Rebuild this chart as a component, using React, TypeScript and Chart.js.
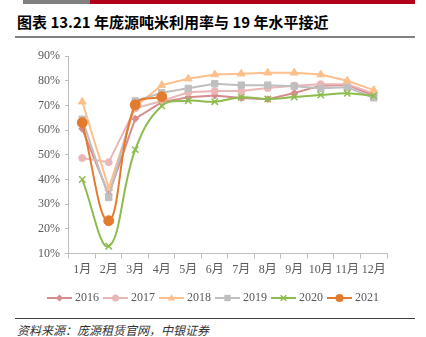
import React, { useEffect, useRef } from 'react';
import { Chart, registerables } from 'chart.js';

Chart.register(...registerables);

const months = ['1月', '2月', '3月', '4月', '5月', '6月', '7月', '8月', '9月', '10月', '11月', '12月'];
const y2016 = [60.5, 34, 64.6, 71.3, 73.3, 74, 73, 72.5, 75, 78, 78.3, 74];
const y2017 = [48.7, 47, 68.8, 71.8, 75.3, 75.8, 75.8, 77, 78, 78.6, 78.6, 74.8];
const y2018 = [71.5, 36.5, 69.5, 78.2, 80.8, 82.5, 82.8, 83.2, 83.2, 82.5, 80, 76.2];
const y2019 = [64.4, 32.7, 71.8, 75.1, 76.9, 78.8, 78.2, 78.2, 77.8, 76.9, 77.3, 73.1];
const y2020 = [40, 13, 52.1, 69.8, 71.9, 71.5, 73.3, 72.6, 73.4, 74.2, 74.9, 73.9];
const y2021 = [63, 23.3, 70.2, 73.5];
const seriesNames = ['2016', '2017', '2018', '2019', '2020', '2021'];

const FONT = "'Liberation Serif', 'Noto Sans CJK SC', serif";
const TEXT = '#595959';
const AXIS = '#BFBFBF';

function drawMarker(ctx: CanvasRenderingContext2D, style: string, x: number, y: number, r: number, color: string) {
  ctx.save();
  ctx.fillStyle = color;
  ctx.strokeStyle = color;
  ctx.lineWidth = 1.5;
  ctx.beginPath();
  if (style === 'circle') {
    ctx.arc(x, y, r, 0, Math.PI * 2);
    ctx.fill();
  } else if (style === 'rectRot') {
    ctx.moveTo(x, y - r);
    ctx.lineTo(x + r, y);
    ctx.lineTo(x, y + r);
    ctx.lineTo(x - r, y);
    ctx.closePath();
    ctx.fill();
  } else if (style === 'triangle') {
    ctx.moveTo(x, y - r);
    ctx.lineTo(x + r * 0.9, y + r * 0.6);
    ctx.lineTo(x - r * 0.9, y + r * 0.6);
    ctx.closePath();
    ctx.fill();
  } else if (style === 'rect') {
    ctx.rect(x - r * 0.8, y - r * 0.8, r * 1.6, r * 1.6);
    ctx.fill();
  } else if (style === 'crossRot') {
    const d = r * 0.7;
    ctx.moveTo(x - d, y - d);
    ctx.lineTo(x + d, y + d);
    ctx.moveTo(x + d, y - d);
    ctx.lineTo(x - d, y + d);
    ctx.stroke();
  }
  ctx.restore();
}

const legendPlugin = {
  id: 'customLegend',
  afterDraw(chart: any) {
    const ctx = chart.ctx as CanvasRenderingContext2D;
    const ds = chart.data.datasets;
    ctx.save();
    ctx.font = `12px ${FONT}`;
    const lineW = 25;
    const gap = 3;
    const pad = 4;
    const widths = seriesNames.map((n) => lineW + gap + ctx.measureText(n).width);
    const total = widths.reduce((a, b) => a + b, 0) + pad * (widths.length - 1);
    let x = (chart.width - total) / 2;
    const y = chart.height - 18;
    seriesNames.forEach((name, i) => {
      const d = ds[i];
      ctx.strokeStyle = d.borderColor;
      ctx.lineWidth = 2;
      ctx.beginPath();
      ctx.moveTo(x, y);
      ctx.lineTo(x + lineW, y);
      ctx.stroke();
      drawMarker(ctx, d.pointStyle, x + lineW / 2, y, Math.min(d.pointRadius, 4), d.borderColor);
      ctx.fillStyle = TEXT;
      ctx.textBaseline = 'middle';
      ctx.textAlign = 'left';
      ctx.fillText(name, x + lineW + gap, y);
      x += widths[i] + pad;
    });
    ctx.restore();
  },
};

export default function App() {
  const ref = useRef<HTMLCanvasElement | null>(null);

  useEffect(() => {
    if (!ref.current) return;
    const mk = (label: string, data: number[], color: string, style: string, radius: number, order: number, tension = 0) => ({
      label,
      data,
      borderColor: color,
      backgroundColor: color,
      pointBackgroundColor: color,
      pointBorderColor: color,
      pointStyle: style,
      pointRadius: radius,
      pointBorderWidth: style === 'crossRot' ? 1.5 : 1,
      borderWidth: 2,
      tension,
      order,
      fill: false,
    });
    const chart = new Chart(ref.current, {
      type: 'line',
      data: {
        labels: months,
        datasets: [
          mk('2016', y2016, '#D88B8F', 'rectRot', 3.5, 5),
          mk('2017', y2017, '#EAB6B6', 'circle', 3.5, 4),
          mk('2018', y2018, '#FDC08C', 'triangle', 4.5, 3),
          mk('2019', y2019, '#BFBFBF', 'rect', 4.5, 2),
          mk('2020', y2020, '#8DBB4D', 'crossRot', 4.5, 1, 0.4),
          mk('2021', y2021, '#E37B2F', 'circle', 5, 0, 0.4),
        ] as any,
      },
      options: {
        animation: false,
        responsive: false,
        maintainAspectRatio: false,
        layout: { padding: { left: 33, right: 39, top: 16, bottom: 35 } },
        plugins: {
          legend: { display: false },
          tooltip: { enabled: false },
        },
        scales: {
          x: {
            offset: true,
            grid: { offset: true, drawOnChartArea: false, drawTicks: true, tickLength: 5, color: AXIS },
            border: { color: AXIS, width: 1 },
            ticks: { color: TEXT, font: { family: FONT, size: 12 }, padding: 4, maxRotation: 0, autoSkip: false },
          },
          y: {
            min: 10,
            max: 90,
            grid: { drawOnChartArea: false, drawTicks: true, tickLength: 4, color: AXIS },
            border: { color: AXIS, width: 1 },
            ticks: {
              stepSize: 10,
              color: TEXT,
              font: { family: FONT, size: 12 },
              padding: 5,
              callback: (v: any) => `${v}%`,
            },
          },
        },
      },
      plugins: [legendPlugin],
    });
    return () => chart.destroy();
  }, []);

  return (
    <div style={{ position: 'absolute', left: 0, top: 0, width: 426, height: 337, background: '#fff', overflow: 'hidden' }}>
      <div style={{ position: 'absolute', left: 23, top: 0, width: 67, height: 4, background: '#7F7F7F' }} />
      <div style={{ position: 'absolute', left: 90, top: 0, width: 325, height: 4, background: '#B3001B' }} />
      <div
        style={{
          position: 'absolute',
          left: 17,
          top: 12,
          fontFamily: "'Noto Sans CJK SC', sans-serif",
          fontWeight: 'bold',
          fontSize: 15,
          lineHeight: '20px',
          color: '#000',
          whiteSpace: 'nowrap',
        }}
      >
        图表 13.21 年庞源吨米利用率与 19 年水平接近
      </div>
      <div style={{ position: 'absolute', left: 15, top: 36, width: 400, height: 2, background: '#808080' }} />
      <canvas ref={ref} width={426} height={276} style={{ position: 'absolute', left: 0, top: 40, width: 426, height: 276 }} />
      <div style={{ position: 'absolute', left: 15, top: 318, width: 400, height: 1, background: '#404040' }} />
      <div
        style={{
          position: 'absolute',
          left: 17,
          top: 322,
          fontFamily: "'Noto Sans CJK SC', sans-serif",
          fontStyle: 'italic',
          fontSize: 12,
          lineHeight: '16px',
          color: '#333',
          whiteSpace: 'nowrap',
        }}
      >
        资料来源：庞源租赁官网，中银证券
      </div>
    </div>
  );
}
